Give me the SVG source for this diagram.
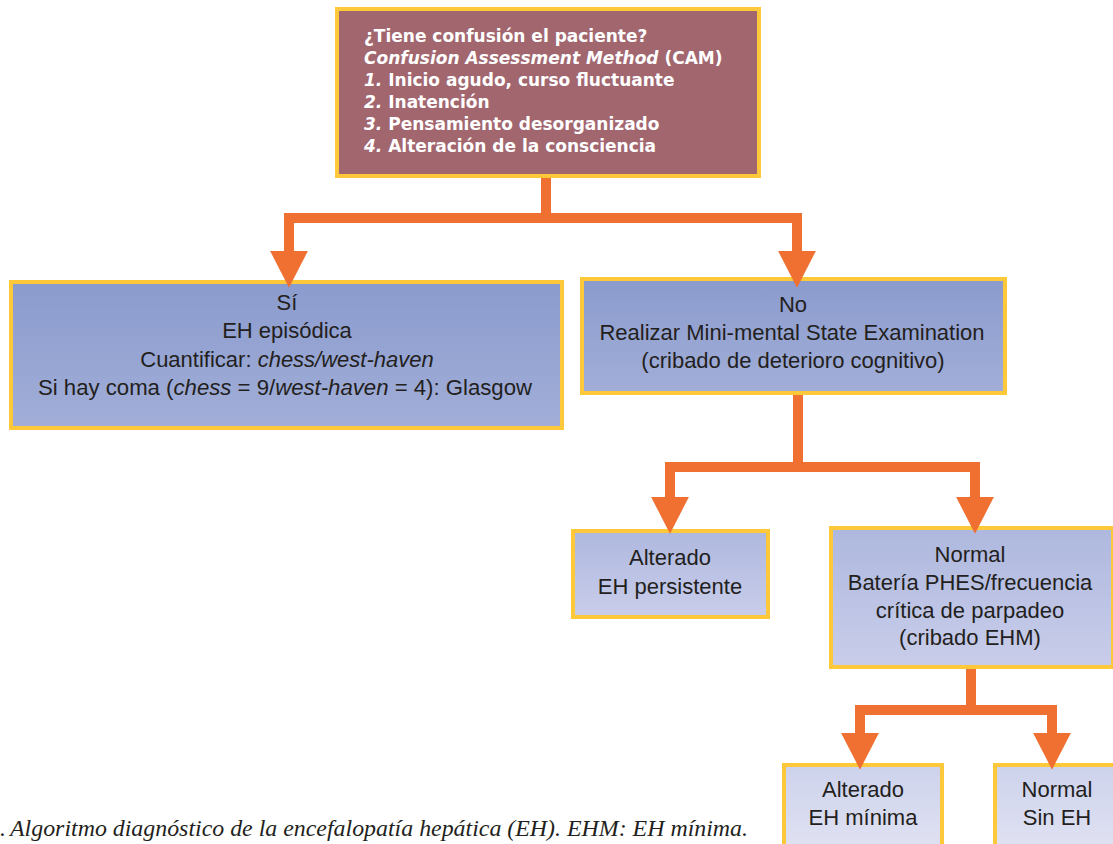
<svg xmlns="http://www.w3.org/2000/svg" width="1113" height="844" viewBox="0 0 1113 844">
<style>
.box{stroke:#fdc93b;stroke-width:4}
.t{font-family:"Liberation Sans",Arial,sans-serif;font-size:22px;fill:#231f20;text-anchor:middle}
.h{font-family:"DejaVu Sans",sans-serif;font-weight:bold;font-size:17px;fill:#ffffff}
.i{font-style:italic}
.conn{fill:none;stroke:#f07031;stroke-width:10;stroke-linejoin:miter;stroke-linecap:butt}
.cap{font-family:"Liberation Serif","Times New Roman",serif;font-style:italic;font-size:24px;fill:#231f20}
</style>
<defs>
<linearGradient id="g1" x1="0" y1="0" x2="0" y2="1"><stop offset="0" stop-color="#8a9bcd"/><stop offset="1" stop-color="#a2aed8"/></linearGradient>
<linearGradient id="g2" x1="0" y1="0" x2="0" y2="1"><stop offset="0" stop-color="#aeb8de"/><stop offset="1" stop-color="#c9cdea"/></linearGradient>
<linearGradient id="g3" x1="0" y1="0" x2="0" y2="1"><stop offset="0" stop-color="#cdd2ec"/><stop offset="1" stop-color="#e0e2f2"/></linearGradient>
<marker id="ah" markerUnits="userSpaceOnUse" markerWidth="40" markerHeight="40" viewBox="0 -18 34 36" refX="0" refY="0" orient="auto"><path d="M0,-17 L33,0 L0,17 Z" fill="#f07031"/></marker>
</defs>
<g id="n-top">
<rect class="box" x="337" y="9" width="422" height="167" fill="#a2666f"/>
<text class="h" x="364" y="42">¿Tiene confusión el paciente?</text>
<text class="h" x="364" y="64"><tspan class="i">Confusion Assessment Method</tspan> (CAM)</text>
<text class="h" x="364" y="86"><tspan class="i">1.</tspan> Inicio agudo, curso fluctuante</text>
<text class="h" x="364" y="108"><tspan class="i">2.</tspan> Inatención</text>
<text class="h" x="364" y="130"><tspan class="i">3.</tspan> Pensamiento desorganizado</text>
<text class="h" x="364" y="152"><tspan class="i">4.</tspan> Alteración de la consciencia</text>
</g>
<g id="n-si">
<rect class="box" x="11" y="282" width="551" height="146" fill="url(#g1)"/>
<text class="t" x="287" y="310">Sí</text>
<text class="t" x="287" y="338">EH episódica</text>
<text class="t" x="287" y="367">Cuantificar: <tspan class="i">chess/west-haven</tspan></text>
<text class="t" x="285" y="395" textLength="494" lengthAdjust="spacingAndGlyphs">Si hay coma (<tspan class="i">chess</tspan> = 9/<tspan class="i">west-haven</tspan> = 4): Glasgow</text>
</g>
<g id="n-no">
<rect class="box" x="582" y="279" width="423" height="114" fill="url(#g1)"/>
<text class="t" x="793" y="312">No</text>
<text class="t" x="792" y="340">Realizar Mini-mental State Examination</text>
<text class="t" x="793" y="368">(cribado de deterioro cognitivo)</text>
</g>
<g id="n-alt1">
<rect class="box" x="573" y="531" width="195" height="86" fill="url(#g2)"/>
<text class="t" x="670" y="565">Alterado</text>
<text class="t" x="670" y="594">EH persistente</text>
</g>
<g id="n-norm1">
<rect class="box" x="831" y="528" width="282" height="139" fill="url(#g2)"/>
<text class="t" x="970" y="562">Normal</text>
<text class="t" x="970" y="590">Batería PHES/frecuencia</text>
<text class="t" x="970" y="618">crítica de parpadeo</text>
<text class="t" x="970" y="645">(cribado EHM)</text>
</g>
<g id="n-alt2">
<rect class="box" x="784" y="765" width="158" height="84" fill="url(#g3)"/>
<text class="t" x="863" y="797">Alterado</text>
<text class="t" x="863" y="825">EH mínima</text>
</g>
<g id="n-norm2">
<rect class="box" x="995" y="765" width="122" height="84" fill="url(#g3)"/>
<text class="t" x="1057" y="797">Normal</text>
<text class="t" x="1057" y="825">Sin EH</text>
</g>
<g id="connectors">
<path class="conn" d="M546,178 V218 H289 V251" marker-end="url(#ah)"/>
<path class="conn" d="M546,178 V218 H797 V251" marker-end="url(#ah)"/>
<path class="conn" d="M798,395 V467 H670 V497" marker-end="url(#ah)"/>
<path class="conn" d="M798,395 V467 H975 V497" marker-end="url(#ah)"/>
<path class="conn" d="M971,669 V710 H860 V733" marker-end="url(#ah)"/>
<path class="conn" d="M971,669 V710 H1052 V733" marker-end="url(#ah)"/>
</g>
<text class="cap" x="0" y="836">.<tspan x="10" textLength="738" lengthAdjust="spacingAndGlyphs">Algoritmo diagnóstico de la encefalopatía hepática (EH). EHM: EH mínima.</tspan></text>
</svg>
